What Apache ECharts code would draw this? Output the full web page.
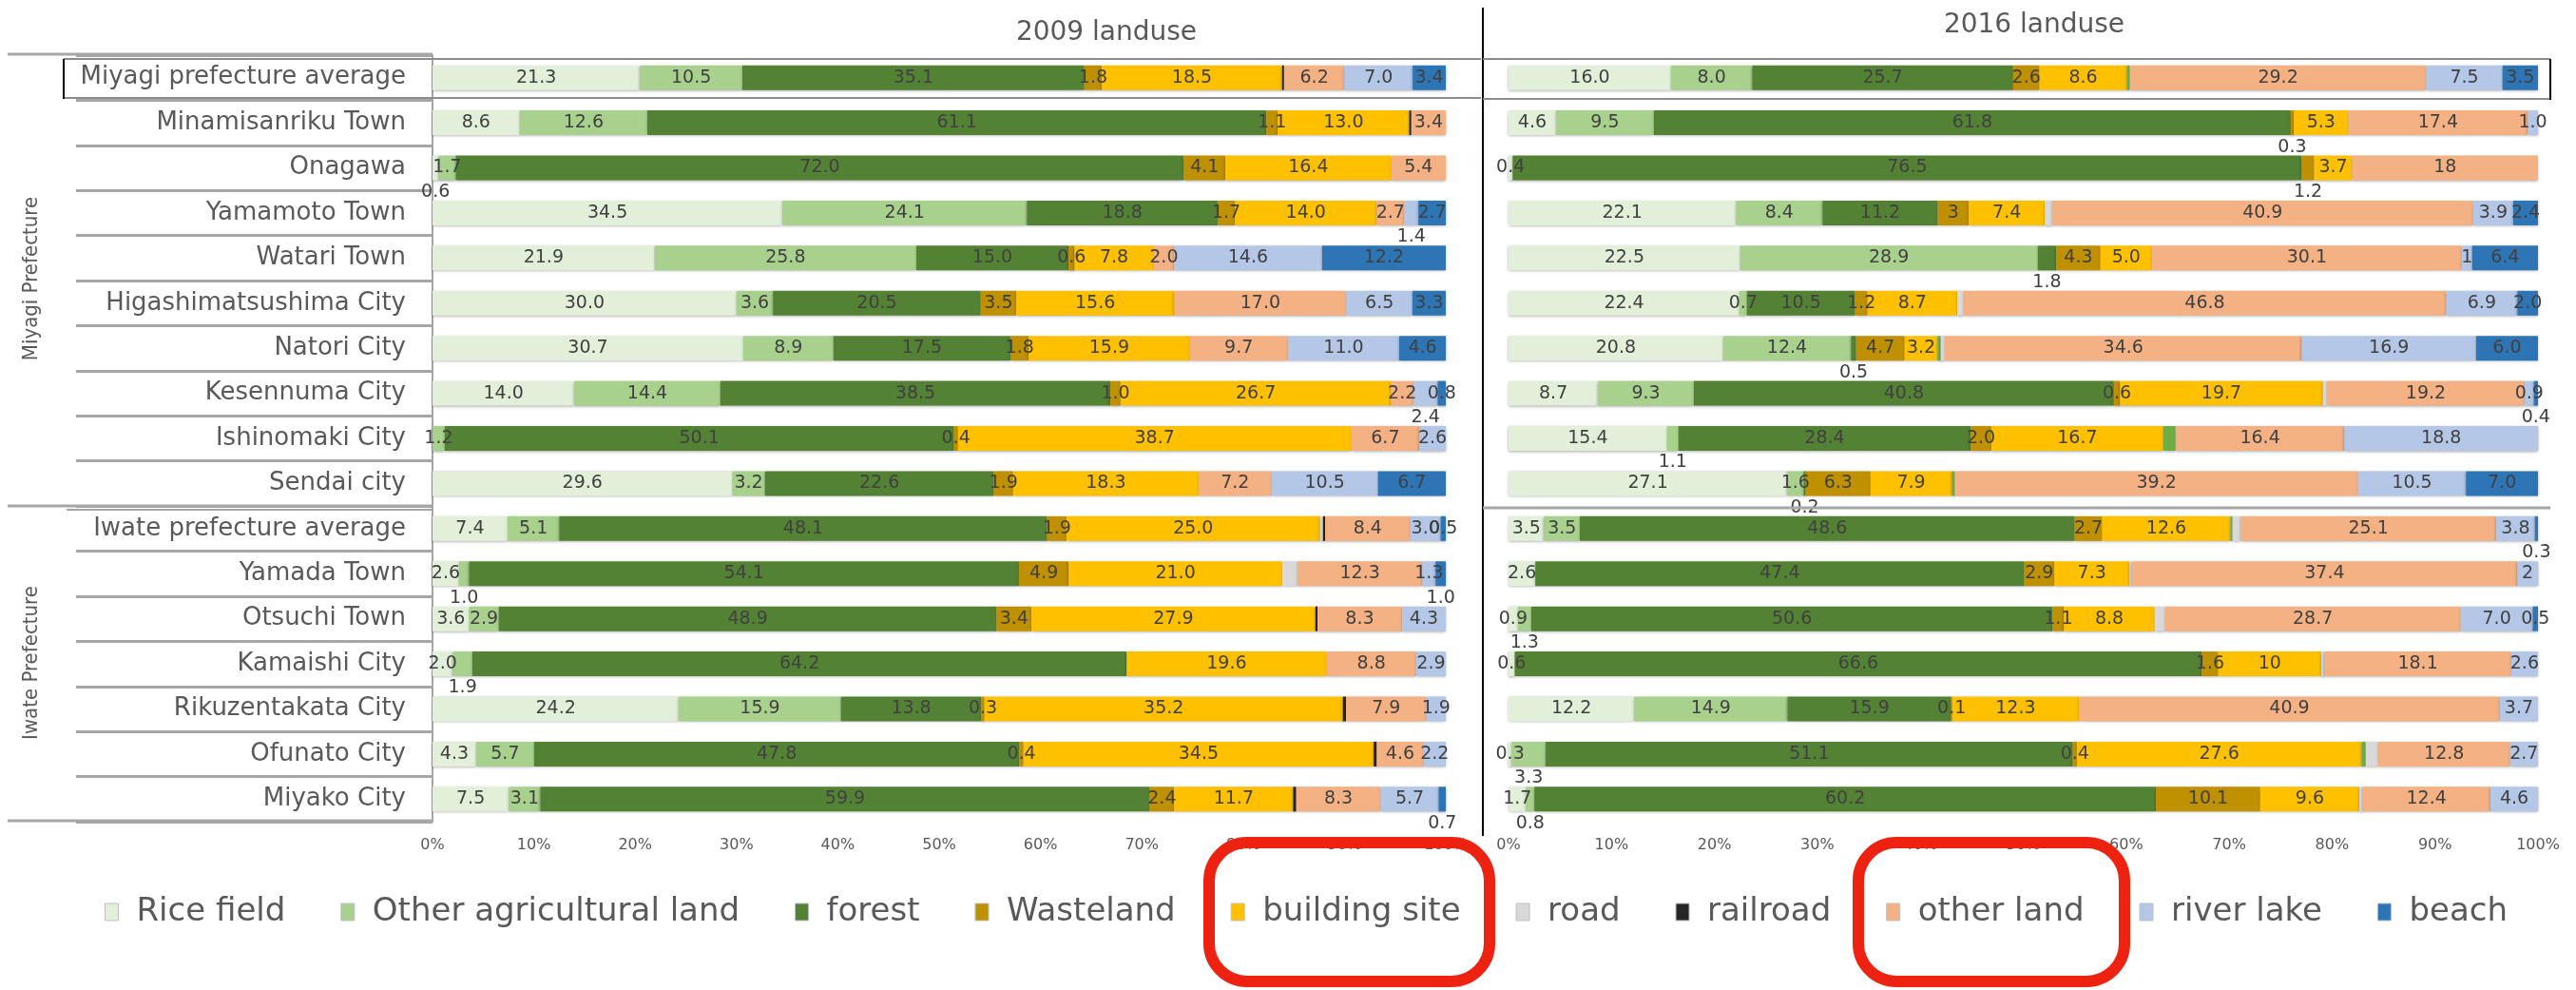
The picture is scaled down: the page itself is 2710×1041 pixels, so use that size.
<!DOCTYPE html>
<html>
<head>
<meta charset="utf-8">
<title>2009 / 2016 landuse</title>
<script src="https://cdn.jsdelivr.net/npm/echarts@6/dist/echarts.min.js"></script>
<style>
  html, body { margin: 0; padding: 0; background: #fff; }
  #chart { width: 2710px; height: 1041px; }
</style>
</head>
<body>
<div id="chart"></div>
<script>
// rows, top to bottom
const categories = [
  'Miyagi prefecture average', 'Minamisanriku Town', 'Onagawa', 'Yamamoto Town', 'Watari Town',
  'Higashimatsushima City', 'Natori City', 'Kesennuma City', 'Ishinomaki City', 'Sendai city',
  'Iwate prefecture average', 'Yamada Town', 'Otsuchi Town', 'Kamaishi City', 'Rikuzentakata City',
  'Ofunato City', 'Miyako City'
]
// stacking order; 'unlisted' is the thin bright green strip that has no legend entry
const landTypes = ['Rice field', 'Other agricultural land', 'forest', 'Wasteland', 'building site',
  'unlisted', 'road', 'railroad', 'other land', 'river lake', 'beach']
const legendTypes = ['Rice field', 'Other agricultural land', 'forest', 'Wasteland', 'building site',
  'road', 'railroad', 'other land', 'river lake', 'beach']
const xTicks = [0, 10, 20, 30, 40, 50, 60, 70, 80, 90, 100]

// 2009 landuse (%)
const rice2009 = [21.3, 8.6, 0.6, 34.5, 21.9, 30.0, 30.7, 14.0, 0, 29.6, 7.4, 2.6, 3.6, 2.0, 24.2, 4.3, 7.5]
const agri2009 = [10.5, 12.6, 1.7, 24.1, 25.8, 3.6, 8.9, 14.4, 1.2, 3.2, 5.1, 1.0, 2.9, 1.9, 15.9, 5.7, 3.1]
const forest2009 = [35.1, 61.1, 72.0, 18.8, 15.0, 20.5, 17.5, 38.5, 50.1, 22.6, 48.1, 54.1, 48.9, 64.2, 13.8, 47.8, 59.9]
const waste2009 = [1.8, 1.1, 4.1, 1.7, 0.6, 3.5, 1.8, 1.0, 0.4, 1.9, 1.9, 4.9, 3.4, 0, 0.3, 0.4, 2.4]
const building2009 = [18.5, 13.0, 16.4, 14.0, 7.8, 15.6, 15.9, 26.7, 38.7, 18.3, 25.0, 21.0, 27.9, 19.6, 35.2, 34.5, 11.7]
const unlisted2009 = [0, 0, 0, 0, 0, 0, 0, 0, 0, 0, 0, 0, 0, 0, 0, 0, 0]
const road2009 = [0, 0, 0, 0, 0, 0, 0, 0, 0, 0, 0.3, 1.5, 0, 0, 0, 0, 0]
const railroad2009 = [0.2, 0.2, 0, 0, 0, 0, 0, 0, 0, 0, 0.2, 0, 0.2, 0, 0.3, 0.3, 0.3]
const other2009 = [6.2, 3.4, 5.4, 2.7, 2.0, 17.0, 9.7, 2.2, 6.7, 7.2, 8.4, 12.3, 8.3, 8.8, 7.9, 4.6, 8.3]
const river2009 = [7.0, 0, 0, 1.4, 14.6, 6.5, 11.0, 2.4, 2.6, 10.5, 3.0, 1.3, 4.3, 2.9, 1.9, 2.2, 5.7]
const beach2009 = [3.4, 0, 0, 2.7, 12.2, 3.3, 4.6, 0.8, 0, 6.7, 0.5, 1.0, 0, 0, 0, 0, 0.7]

// 2016 landuse (%) - strings are labels printed without a decimal
const rice2016 = [16.0, 4.6, 0.4, 22.1, 22.5, 22.4, 20.8, 8.7, 15.4, 27.1, 3.5, 2.6, 0.9, 0.6, 12.2, 0.3, 1.7]
const agri2016 = [8.0, 9.5, 0, 8.4, 28.9, 0.7, 12.4, 9.3, 1.1, 1.6, 3.5, 0, 1.3, 0, 14.9, 3.3, 0.8]
const forest2016 = [25.7, 61.8, 76.5, 11.2, 1.8, 10.5, 0.5, 40.8, 28.4, 0.2, 48.6, 47.4, 50.6, 66.6, 15.9, 51.1, 60.2]
const waste2016 = [2.6, 0.3, 1.2, '3', 4.3, 1.2, 4.7, 0.6, 2.0, 6.3, 2.7, 2.9, 1.1, 1.6, 0.1, 0.4, 10.1]
const building2016 = [8.6, 5.3, 3.7, 7.4, 5.0, 8.7, 3.2, 19.7, 16.7, 7.9, 12.6, 7.3, 8.8, '10', 12.3, 27.6, 9.6]
const unlisted2016 = [0.3, 0, 0, 0, 0, 0, 0.3, 0, 1.2, 0.3, 0.2, 0, 0, 0, 0, 0.4, 0]
const road2016 = [0, 0, 0, 0.7, 0, 0.6, 0.4, 0.4, 0, 0, 0.8, 0.2, 1.0, 0.3, 0, 1.2, 0.3]
const railroad2016 = [0, 0, 0, 0, 0, 0, 0, 0, 0, 0, 0, 0, 0, 0, 0, 0, 0]
const other2016 = [29.2, 17.4, '18', 40.9, 30.1, 46.8, 34.6, 19.2, 16.4, 39.2, 25.1, 37.4, 28.7, 18.1, 40.9, 12.8, 12.4]
const river2016 = [7.5, 1.0, 0, 3.9, '1', 6.9, 16.9, 0.9, 18.8, 10.5, 3.8, '2', 7.0, 2.6, 3.7, 2.7, 4.6]
const beach2016 = [3.5, 0, 0, 2.4, 6.4, 2.0, 6.0, 0.4, 0, 7.0, 0.3, 0, 0.5, 0, 0, 0, 0]

// small values whose label sits under the bar (row index -> land types)
const below2009 = { 2: ['Rice field'], 3: ['river lake'], 7: ['river lake'], 11: ['Other agricultural land', 'beach'],
  13: ['Other agricultural land'], 16: ['beach'] }
const below2016 = { 1: ['Wasteland'], 2: ['Wasteland'], 4: ['forest'], 6: ['forest'], 7: ['beach'],
  8: ['Other agricultural land'], 9: ['forest'], 10: ['beach'], 12: ['Other agricultural land'],
  15: ['Other agricultural land'], 16: ['Other agricultural land'] }

const years = [
  { values: [rice2009, agri2009, forest2009, waste2009, building2009, unlisted2009, road2009, railroad2009, other2009, river2009, beach2009], below: below2009 },
  { values: [rice2016, agri2016, forest2016, waste2016, building2016, unlisted2016, road2016, railroad2016, other2016, river2016, beach2016], below: below2016 }
]

const colors = {
  'Rice field': '#E2F0D9', 'Other agricultural land': '#A9D18E', 'forest': '#548235', 'Wasteland': '#BF9000',
  'building site': '#FFC000', 'unlisted': '#70AD47', 'road': '#D9D9D9', 'railroad': '#262626',
  'other land': '#F4B183', 'river lake': '#B4C7E7', 'beach': '#2E75B6'
}
const noLabel = ['unlisted', 'road', 'railroad']
const FONT = '"DejaVu Sans", Verdana, sans-serif'
const NARROW = '"DejaVu Sans Condensed", "Liberation Sans Narrow", sans-serif'

const series = []
years.forEach(function(year, g) {
  const totals = categories.map(function(c, i) {
    return year.values.reduce(function(s, arr) { return s + Number(arr[i]) }, 0)
  })
  landTypes.forEach(function(type, k) {
    const raw = year.values[k]
    series.push({
      name: type,
      type: 'bar',
      stack: 'y' + g,
      xAxisIndex: g,
      yAxisIndex: g,
      barWidth: 26,
      itemStyle: {
        color: colors[type],
        shadowColor: 'rgba(0,0,0,0.35)',
        shadowBlur: 3,
        shadowOffsetY: 1
      },
      label: {
        show: noLabel.indexOf(type) < 0,
        position: 'inside',
        color: '#404040',
        fontFamily: FONT,
        fontSize: 19,
        formatter: function(p) {
          const v = raw[p.dataIndex]
          return typeof v === 'string' ? v : v.toFixed(1)
        }
      },
      data: raw.map(function(v, i) {
        const n = Number(v)
        if (n === 0) return '-'
        const under = year.below[i] && year.below[i].indexOf(type) >= 0
        return under ? { value: n / totals[i] * 100, label: { position: 'bottom', distance: 3 } } : n / totals[i] * 100
      })
    })
  })
})

function line(x1, y1, x2, y2, color, w) {
  return { type: 'line', shape: { x1: x1, y1: y1, x2: x2, y2: y2 }, style: { stroke: color, lineWidth: w }, z: 10 }
}
function text(t, x, y, size, family, rot) {
  return { type: 'text', x: x, y: y, rotation: rot || 0, z: 10,
    style: { text: t, fill: '#595959', font: size + 'px ' + family, align: 'center', verticalAlign: 'middle' } }
}

const chart = echarts.init(document.getElementById('chart'))
chart.setOption({
  animation: false,
  grid: [
    { left: 455, right: 1189, top: 58, height: 806 },
    { left: 1587, right: 40, top: 58, height: 806 }
  ],
  xAxis: [0, 1].map(function(g) {
    return {
      gridIndex: g, type: 'value', min: xTicks[0], max: xTicks[xTicks.length - 1], interval: 10,
      axisLine: { show: false }, axisTick: { show: false }, splitLine: { show: false },
      axisLabel: { margin: 17, color: '#595959', fontFamily: FONT, fontSize: 16, formatter: '{value}%' }
    }
  }),
  yAxis: [
    {
      gridIndex: 0, type: 'category', inverse: true, data: categories,
      axisLine: { show: true, lineStyle: { color: '#a6a6a6', width: 2 } },
      axisTick: { show: true, length: 375, lineStyle: { color: '#a6a6a6', width: 3 } },
      axisLabel: { margin: 28, color: '#595959', fontFamily: FONT, fontSize: 26 }
    },
    {
      gridIndex: 1, type: 'category', inverse: true, data: categories,
      axisLine: { show: false }, axisTick: { show: false }, axisLabel: { show: false }
    }
  ],
  legend: {
    data: legendTypes,
    left: 105,
    top: 937,
    itemWidth: 14,
    itemHeight: 18,
    itemGap: 58,
    icon: 'rect',
    itemStyle: { borderColor: '#bfbfbf', borderWidth: 1 },
    textStyle: { color: '#595959', fontFamily: FONT, fontSize: 34, padding: [0, 0, 0, 14] }
  },
  graphic: [
    text('2009 landuse', 1164, 35, 28, FONT),
    text('2016 landuse', 2140, 27, 28, FONT),
    text('Miyagi Prefecture', 33, 293, 22, NARROW, Math.PI / 2),
    text('Iwate Prefecture', 33, 697, 22, NARROW, Math.PI / 2),
    line(1560, 8, 1560, 879, '#000', 2),
    line(8, 57, 455, 57, '#a6a6a6', 3),
    line(8, 532, 455, 532, '#a6a6a6', 3),
    line(70, 536, 455, 536, '#a6a6a6', 2),
    line(1560, 534, 2683, 534, '#a6a6a6', 3),
    line(8, 863, 455, 863, '#a6a6a6', 3),
    line(67, 62, 1558, 62, '#8c8c8c', 2),
    line(67, 103, 1558, 103, '#8c8c8c', 2),
    line(67, 62, 67, 104, '#000', 2),
    line(1560, 62, 2683, 62, '#8c8c8c', 2),
    line(1560, 104, 2683, 104, '#8c8c8c', 2),
    line(2683, 62, 2683, 105, '#000', 2),
    { type: 'rect', z: 20, shape: { x: 1272, y: 886, width: 295, height: 146, r: 40 },
      style: { fill: 'none', stroke: '#EE2211', lineWidth: 12 } },
    { type: 'rect', z: 20, shape: { x: 1955, y: 886, width: 280, height: 146, r: 40 },
      style: { fill: 'none', stroke: '#EE2211', lineWidth: 12 } }
  ],
  series: series
})
</script>
</body>
</html>
